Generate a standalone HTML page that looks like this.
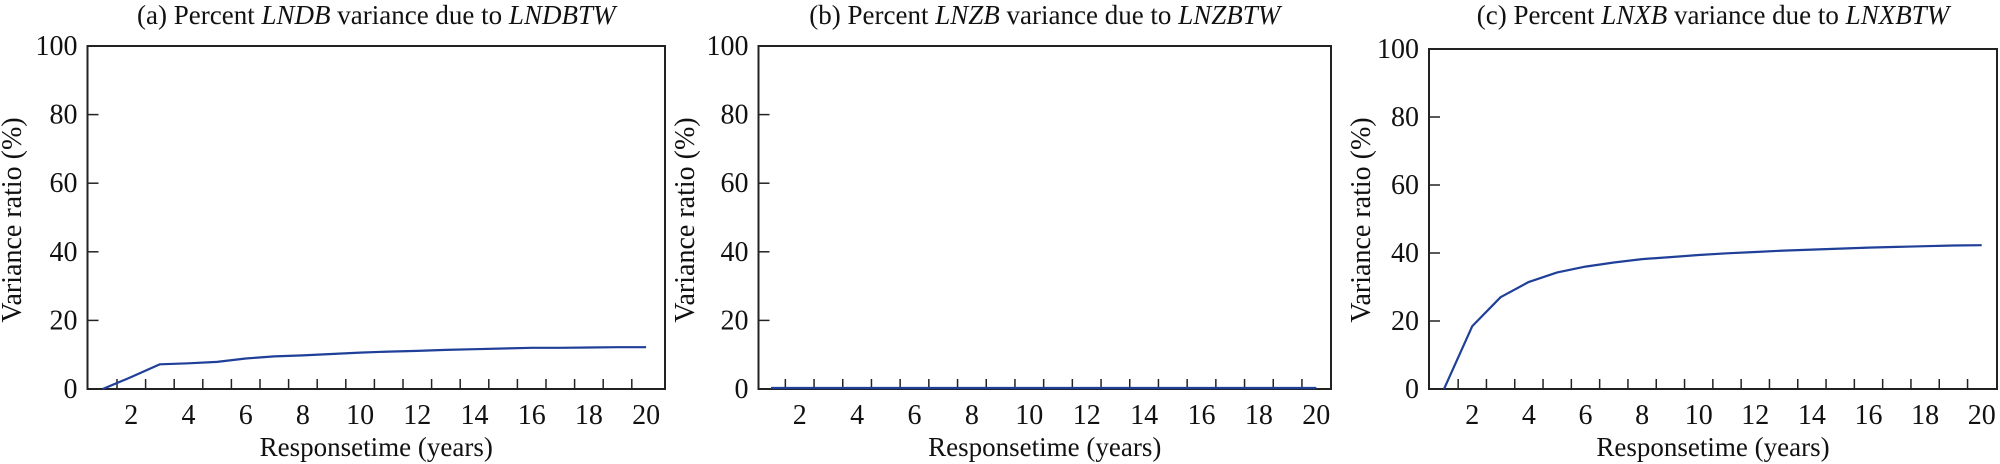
<!DOCTYPE html>
<html><head><meta charset="utf-8"><style>
html,body{margin:0;padding:0;background:#fff;}
svg{display:block;font-family:"Liberation Serif",serif;}
</style></head><body>
<svg id="chart" width="2000" height="464" viewBox="0 0 2000 464"></svg>
<script>
const xValues = [1,2,3,4,5,6,7,8,9,10,11,12,13,14,15,16,17,18,19,20];
const seriesA = [0,3.5,7.2,7.5,7.9,8.9,9.5,9.8,10.2,10.6,10.9,11.1,11.4,11.6,11.8,12.0,12.0,12.1,12.2,12.2];
const seriesB = [0.3,0.3,0.3,0.3,0.3,0.3,0.3,0.3,0.3,0.3,0.3,0.3,0.3,0.3,0.3,0.3,0.3,0.3,0.3,0.3];
const seriesC = [0,18.5,27,31.5,34.3,36,37.2,38.2,38.8,39.4,39.9,40.3,40.7,41.0,41.3,41.6,41.8,42.0,42.2,42.3];
const yTickLabels = [0,20,40,60,80,100];
const xTickLabels = [2,4,6,8,10,12,14,16,18,20];
const minorTicks = [1.5,2.5,3.5,4.5,5.5,6.5,7.5,8.5,9.5,10.5,11.5,12.5,13.5,14.5,15.5,16.5,17.5,18.5,19.5];

const NS = "http://www.w3.org/2000/svg";
const svg = document.getElementById('chart');
function mk(tag, attrs, parent){
  const e = document.createElementNS(NS, tag);
  for (const k in attrs) e.setAttribute(k, attrs[k]);
  (parent||svg).appendChild(e);
  return e;
}
const panels = [
  {id:'a', left:87.5, right:665, top:46, bottom:389, x1:102.7, unit:28.6, data:seriesA, ylab:11, title:['(a) Percent ','LNDB',' variance due to ','LNDBTW']},
  {id:'b', left:758.5, right:1331, top:46, bottom:389, x1:771, unit:28.7, data:seriesB, ylab:684, title:['(b) Percent ','LNZB',' variance due to ','LNZBTW']},
  {id:'c', left:1429, right:1997, top:49, bottom:389, x1:1444, unit:28.3, data:seriesC, ylab:1360, title:['(c) Percent ','LNXB',' variance due to ','LNXBTW']}
];
panels.forEach(p=>{
  const g = mk('g',{});
  
  
  const xs = v => p.x1 + (v-1)*p.unit;
  const ys = v => p.bottom - v*(p.bottom-p.top)/100;
  // title
  const t = mk('text',{x:(p.left+p.right)/2,y:24,'text-anchor':'middle','font-size':27,fill:'#111'},g);
  
  
  p.title.forEach((s,i)=>{const ts=mk('tspan',{},t); if(i%2) ts.setAttribute('font-style','italic'); ts.textContent=s;});
  // frame
  const r = mk('rect',{x:p.left,y:p.top,width:p.right-p.left,height:p.bottom-p.top,fill:'none',stroke:'#222','stroke-width':2},g);
  
  
  // y ticks
  yTickLabels.forEach(v=>{
    const y = ys(v);
    if (v>0 && v<100) {
      const l = mk('line',{x1:p.left,x2:p.left+11,y1:y,y2:y,stroke:'#222','stroke-width':1.5},g);
      
      
    }
    const tx = mk('text',{x:p.left-10,y:y+9,'text-anchor':'end','font-size':28,fill:'#111'},g);
    
    
    tx.textContent = v;
  });
  // x minor ticks
  minorTicks.forEach(v=>{
    const x = xs(v);
    const l = mk('line',{x1:x,x2:x,y1:p.bottom,y2:p.bottom-10,stroke:'#222','stroke-width':1.5},g);
    
    
  });
  xTickLabels.forEach(v=>{
    const tx = mk('text',{x:xs(v),y:424,'text-anchor':'middle','font-size':28,fill:'#111'},g);
    
    
    tx.textContent = v;
  });
  // axis titles
  const xt = mk('text',{x:(p.left+p.right)/2,y:456,'text-anchor':'middle','font-size':27,fill:'#111'},g);
  
  
  xt.textContent = 'Responsetime (years)';
  const yt = mk('text',{x:0,y:0,'text-anchor':'middle','font-size':28,fill:'#111',transform:'translate('+(p.ylab+10)+',220) rotate(-90)'},g);
  
  
  yt.textContent = 'Variance ratio (%)';
  // series line
  const pts = xValues.map((x,i)=>xs(x).toFixed(1)+','+ys(p.data[i]).toFixed(1)).join(' ');
  const pl = mk('polyline',{points:pts,fill:'none',stroke:'#1f3f98','stroke-width':2.2,'stroke-linejoin':'round'},g);
  
  
});
</script>
</body></html>
